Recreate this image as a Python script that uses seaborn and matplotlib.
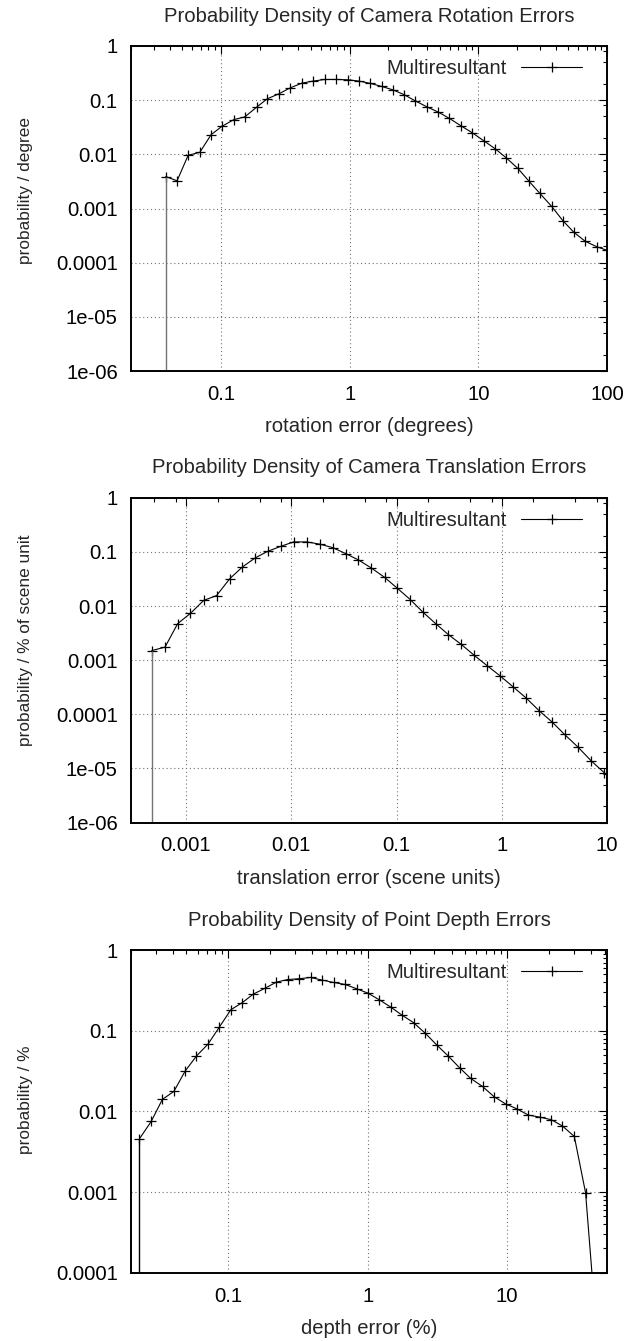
import matplotlib
matplotlib.use("Agg")
import matplotlib.pyplot as plt
import matplotlib.ticker as mticker
import numpy as np
import seaborn as sns

# Camera rotation errors (degrees) vs probability / degree
rot_x = [0.0372, 0.0456, 0.0556, 0.0685, 0.0839, 0.102, 0.126, 0.153, 0.189, 0.229,
         0.282, 0.346, 0.425, 0.520, 0.641, 0.787, 0.964, 1.18, 1.45, 1.78,
         2.17, 2.64, 3.24, 4.00, 4.90, 5.97, 7.28, 8.93, 11.0, 13.5,
         16.4, 20.3, 24.6, 30.1, 37.2, 45.3, 55.2, 67.8, 83.0, 100.0]
rot_y = [0.0039, 0.00325, 0.0096, 0.0109, 0.0231, 0.033, 0.0438, 0.049, 0.074, 0.106,
         0.131, 0.169, 0.206, 0.225, 0.241, 0.241, 0.238, 0.225, 0.204, 0.179,
         0.155, 0.127, 0.097, 0.075, 0.060, 0.046, 0.034, 0.0252, 0.0179, 0.0127,
         0.0087, 0.0055, 0.00325, 0.0019, 0.00109, 0.0006, 0.000365, 0.000248, 0.000198, 0.000169]

# Camera translation errors (scene units)
trans_x = [0.000471, 0.000631, 0.000834, 0.0011, 0.00147, 0.00195, 0.00261, 0.00344, 0.00454, 0.0060,
           0.00798, 0.0105, 0.0140, 0.0187, 0.0248, 0.0329, 0.0435, 0.0574, 0.0769, 0.101,
           0.135, 0.177, 0.235, 0.310, 0.413, 0.550, 0.729, 0.964, 1.28, 1.71,
           2.27, 3.01, 3.95, 5.30, 7.05, 9.44]
trans_y = [0.0015, 0.00174, 0.00475, 0.0073, 0.0127, 0.0156, 0.0322, 0.0528, 0.0775, 0.103,
           0.127, 0.153, 0.153, 0.139, 0.120, 0.093, 0.071, 0.0507, 0.034, 0.0216,
           0.0132, 0.0078, 0.00475, 0.00298, 0.00195, 0.00122, 0.000786, 0.000514, 0.000322, 0.000199,
           0.000116, 7.2e-5, 4.25e-5, 2.48e-5, 1.39e-5, 8.3e-6]

# Point depth errors (%)
depth_x = [0.0230, 0.0279, 0.0336, 0.0406, 0.0489, 0.0589, 0.0714, 0.0861, 0.104, 0.126,
           0.151, 0.182, 0.221, 0.267, 0.321, 0.388, 0.470, 0.568, 0.687, 0.830,
           1.0, 1.21, 1.47, 1.76, 2.13, 2.59, 3.13, 3.78, 4.55, 5.48,
           6.65, 8.02, 9.73, 11.7, 14.2, 17.1, 20.7, 24.9, 30.3, 36.5, 44.1]
depth_y = [0.00458, 0.0075, 0.0141, 0.0177, 0.0316, 0.0485, 0.0684, 0.111, 0.182, 0.224,
           0.285, 0.335, 0.401, 0.432, 0.441, 0.458, 0.425, 0.397, 0.375, 0.332,
           0.293, 0.242, 0.195, 0.156, 0.126, 0.0927, 0.0664, 0.0485, 0.0348, 0.0256,
           0.0204, 0.0153, 0.0124, 0.0108, 0.0090, 0.0085, 0.0079, 0.0066, 0.0049, 0.00098, 1.6e-5]

sns.set_style("white")
plt.rcParams["font.family"] = ["Liberation Sans", "DejaVu Sans"]
FS = 14.6      # titles, ticks, x labels, legend
FS_Y = 12.4    # rotated y labels come out smaller in the original

panels = [
    dict(x=rot_x, y=rot_y, xlim=(0.02, 100), ylim=(1e-6, 1),
         title="Probability Density of Camera Rotation Errors",
         xlabel="rotation error (degrees)", ylabel="probability / degree",
         xsubs=np.arange(2, 10), ysubs=(2, 5, 8), drop="0.45", ylab_y=0.555,
         rect=[131 / 627, 0.7233, 476 / 627, 0.2424]),
    dict(x=trans_x, y=trans_y, xlim=(0.0003, 10), ylim=(1e-6, 1),
         title="Probability Density of Camera Translation Errors",
         xlabel="translation error (scene units)", ylabel="probability / % of scene unit",
         xsubs=(2, 5, 8), ysubs=(2, 5, 8), drop="0.45", ylab_y=0.56,
         rect=[131 / 627, 0.3866, 476 / 627, 0.2422]),
    dict(x=depth_x, y=depth_y, xlim=(0.02, 52), ylim=(1e-4, 1),
         title="Probability Density of Point Depth Errors",
         xlabel="depth error (%)", ylabel="probability / %",
         xsubs=np.arange(2, 10), ysubs=np.arange(2, 10), drop="black", ylab_y=0.535,
         rect=[131 / 627, 0.0509, 476 / 627, 0.2406]),
]

fig = plt.figure(figsize=(6.27, 13.41), dpi=100)
fmt = mticker.FuncFormatter(lambda v, p: "%g" % v)

for p in panels:
    ax = fig.add_axes(p["rect"])
    ax.set_xscale("log")
    ax.set_yscale("log")
    sns.lineplot(x=p["x"], y=p["y"], ax=ax, sort=False, estimator=None,
                 color="black", linewidth=0.8, marker="+", markersize=6.5,
                 markeredgewidth=0.9, markeredgecolor="black", label="Multiresultant")
    # line down to the bottom of the plot at the first bin
    ax.vlines(p["x"][0], p["ylim"][0], p["y"][0], color=p["drop"], linewidth=1.0)
    ax.set_xlim(*p["xlim"])
    ax.set_ylim(*p["ylim"])

    ax.xaxis.set_major_locator(mticker.LogLocator(base=10, numticks=100))
    ax.yaxis.set_major_locator(mticker.LogLocator(base=10, numticks=100))
    ax.xaxis.set_minor_locator(mticker.LogLocator(base=10, subs=p["xsubs"], numticks=100))
    ax.yaxis.set_minor_locator(mticker.LogLocator(base=10, subs=p["ysubs"], numticks=100))
    ax.xaxis.set_major_formatter(fmt)
    ax.yaxis.set_major_formatter(fmt)
    ax.xaxis.set_minor_formatter(mticker.NullFormatter())
    ax.yaxis.set_minor_formatter(mticker.NullFormatter())

    ax.tick_params(which="both", direction="in", top=True, right=True,
                   colors="black", width=0.8, labelsize=FS)
    ax.tick_params(which="major", length=6)
    ax.tick_params(which="minor", length=3)
    ax.tick_params(axis="x", which="major", pad=10)
    ax.tick_params(axis="y", which="major", pad=9.5)
    ax.grid(True, which="major", color="0.45", linestyle=(0, (1, 2.5)), linewidth=0.8)
    for s in ax.spines.values():
        s.set_color("black")
        s.set_linewidth(1.4)

    ax.set_title(p["title"], fontsize=FS, pad=17.5)
    ax.set_xlabel(p["xlabel"], fontsize=FS, labelpad=9.5)
    ax.set_ylabel(p["ylabel"], fontsize=FS_Y)
    ax.yaxis.set_label_coords(-0.206, p["ylab_y"])
    ax.legend(loc="upper right", bbox_to_anchor=(0.9475, 0.959), frameon=False,
              fontsize=FS, markerfirst=False, handlelength=3.0, handletextpad=0.7,
              borderaxespad=0, borderpad=0)

fig.savefig("out.png", dpi=100)
